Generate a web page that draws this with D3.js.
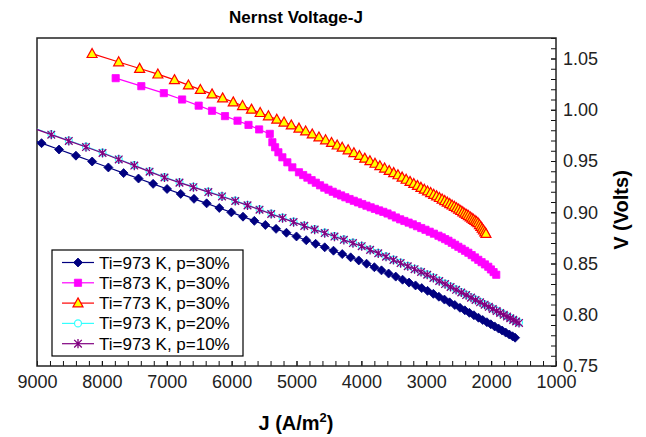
<!DOCTYPE html>
<html><head><meta charset="utf-8">
<script src="https://cdn.jsdelivr.net/npm/d3@7"></script>
<style>
body{margin:0;background:#fff;}
svg{display:block;font-family:Arial,"Liberation Sans",sans-serif;}
</style>
</head><body>
<svg id="chart" width="646" height="437"></svg>
<script>
// ---------------- DATA ----------------
const xTickLabels = [9000, 8000, 7000, 6000, 5000, 4000, 3000, 2000, 1000];
const yTickLabels = [0.75, 0.80, 0.85, 0.90, 0.95, 1.00, 1.05];
const seriesNames = ["Ti=973 K, p=30%", "Ti=873 K, p=30%", "Ti=773 K, p=30%", "Ti=973 K, p=20%", "Ti=973 K, p=10%"];

// Ti=973 K, p=30%
const J_973_30 = [9200, 8930, 8660, 8400, 8150, 7900, 7665, 7435, 7210, 6995, 6785, 6580, 6385, 6190, 6005, 5825, 5650, 5480, 5315, 5155, 5000, 4850, 4705, 4565, 4430, 4295, 4165, 4040, 3920, 3800, 3690, 3580, 3470, 3365, 3265, 3165, 3070, 2980, 2890, 2805, 2720, 2640, 2560, 2480, 2405, 2335, 2265, 2195, 2130, 2065, 2005, 1945, 1885, 1830, 1775, 1720, 1670, 1630];
const V_973_30 = [0.9736, 0.9674, 0.9612, 0.9552, 0.9495, 0.9437, 0.9382, 0.9329, 0.9277, 0.9227, 0.9179, 0.9131, 0.9087, 0.9042, 0.8999, 0.8957, 0.8916, 0.8876, 0.8838, 0.8800, 0.8764, 0.8727, 0.8692, 0.8658, 0.8625, 0.8592, 0.8560, 0.8530, 0.8498, 0.8464, 0.8433, 0.8402, 0.8372, 0.8342, 0.8314, 0.8286, 0.8260, 0.8233, 0.8204, 0.8176, 0.8148, 0.8121, 0.8095, 0.8068, 0.8043, 0.8019, 0.7995, 0.7971, 0.7949, 0.7927, 0.7907, 0.7886, 0.7865, 0.7846, 0.7826, 0.7807, 0.7790, 0.7776];

// Ti=873 K, p=30%
const J_873_30 = [7787, 7392, 7045, 6763, 6508, 6302, 6102, 5909, 5740, 5576, 5412, 5372, 5330, 5279, 5218, 5141, 5064, 4962, 4897, 4832, 4767, 4702, 4637, 4572, 4507, 4442, 4377, 4312, 4247, 4182, 4117, 4052, 3987, 3922, 3857, 3792, 3727, 3662, 3597, 3532, 3467, 3402, 3337, 3272, 3207, 3142, 3077, 3012, 2947, 2882, 2812, 2761, 2709, 2658, 2607, 2556, 2505, 2454, 2402, 2351, 2300, 2249, 2198, 2147, 2095, 2044, 2003, 1962, 1921];
const V_873_30 = [1.0308, 1.0230, 1.0162, 1.0100, 1.0040, 0.9990, 0.9938, 0.9893, 0.9852, 0.9808, 0.9765, 0.9683, 0.9634, 0.9585, 0.9536, 0.9487, 0.9438, 0.9390, 0.9363, 0.9338, 0.9313, 0.9288, 0.9263, 0.9240, 0.9220, 0.9200, 0.9181, 0.9164, 0.9146, 0.9129, 0.9112, 0.9096, 0.9080, 0.9064, 0.9048, 0.9033, 0.9018, 0.9004, 0.8988, 0.8969, 0.8949, 0.8931, 0.8915, 0.8899, 0.8882, 0.8864, 0.8846, 0.8829, 0.8810, 0.8791, 0.8771, 0.8755, 0.8738, 0.8722, 0.8702, 0.8683, 0.8663, 0.8644, 0.8624, 0.8605, 0.8582, 0.8559, 0.8536, 0.8513, 0.8491, 0.8468, 0.8442, 0.8416, 0.8390];

// Ti=773 K, p=30%
const J_773_30 = [8151, 7741, 7418, 7137, 6881, 6666, 6482, 6302, 6139, 5975, 5832, 5694, 5560, 5433, 5304, 5192, 5080, 4962, 4859, 4757, 4654, 4552, 4460, 4373, 4296, 4204, 4115, 4030, 3948, 3868, 3790, 3715, 3642, 3571, 3502, 3436, 3372, 3310, 3250, 3192, 3136, 3082, 3030, 2980, 2932, 2885, 2840, 2797, 2755, 2715, 2676, 2638, 2602, 2567, 2533, 2500, 2468, 2437, 2407, 2378, 2350, 2323, 2297, 2272, 2248, 2225, 2202, 2180, 2159, 2138, 2118, 2098, 2080];
const V_773_30 = [1.0547, 1.0466, 1.0402, 1.0347, 1.0292, 1.0240, 1.0196, 1.0153, 1.0114, 1.0075, 1.0039, 1.0004, 0.9971, 0.9939, 0.9906, 0.9878, 0.9850, 0.9819, 0.9791, 0.9762, 0.9733, 0.9705, 0.9679, 0.9654, 0.9633, 0.9607, 0.9579, 0.9552, 0.9526, 0.9501, 0.9476, 0.9452, 0.9429, 0.9406, 0.9385, 0.9364, 0.9341, 0.9320, 0.9299, 0.9279, 0.9260, 0.9241, 0.9223, 0.9206, 0.9190, 0.9173, 0.9158, 0.9142, 0.9127, 0.9112, 0.9097, 0.9083, 0.9069, 0.9056, 0.9042, 0.9029, 0.9015, 0.9002, 0.8989, 0.8977, 0.8966, 0.8953, 0.8941, 0.8929, 0.8918, 0.8907, 0.8896, 0.8878, 0.8860, 0.8842, 0.8825, 0.8807, 0.8792];

// Ti=973 K, p=20%
const J_973_20 = [9350, 9060, 8780, 8510, 8245, 7990, 7740, 7500, 7265, 7035, 6804, 6589, 6359, 6148, 5944, 5755, 5570, 5390, 5215, 5045, 4880, 4720, 4565, 4415, 4270, 4130, 3995, 3865, 3740, 3620, 3505, 3395, 3285, 3180, 3080, 2985, 2890, 2800, 2710, 2625, 2540, 2460, 2385, 2310, 2240, 2170, 2100, 2035, 1975, 1915, 1860, 1805, 1755, 1705, 1660, 1615, 1570];
const V_973_20 = [0.9890, 0.9825, 0.9761, 0.9700, 0.9640, 0.9582, 0.9519, 0.9459, 0.9400, 0.9343, 0.9293, 0.9249, 0.9201, 0.9158, 0.9114, 0.9071, 0.9029, 0.8987, 0.8947, 0.8908, 0.8871, 0.8835, 0.8801, 0.8767, 0.8735, 0.8703, 0.8673, 0.8637, 0.8603, 0.8570, 0.8538, 0.8508, 0.8477, 0.8449, 0.8421, 0.8394, 0.8363, 0.8333, 0.8303, 0.8275, 0.8247, 0.8221, 0.8196, 0.8171, 0.8148, 0.8125, 0.8102, 0.8081, 0.8061, 0.8040, 0.8022, 0.8003, 0.7986, 0.7970, 0.7954, 0.7939, 0.7924];

// Ti=973 K, p=10%
const J_973_10 = [9350, 9060, 8780, 8510, 8245, 7990, 7740, 7500, 7265, 7035, 6804, 6589, 6359, 6148, 5944, 5755, 5570, 5390, 5215, 5045, 4880, 4720, 4565, 4415, 4270, 4130, 3995, 3865, 3740, 3620, 3505, 3395, 3285, 3180, 3080, 2985, 2890, 2800, 2710, 2625, 2540, 2460, 2385, 2310, 2240, 2170, 2100, 2035, 1975, 1915, 1860, 1805, 1755, 1705, 1660, 1615, 1570];
const V_973_10 = [0.9886, 0.9821, 0.9757, 0.9696, 0.9636, 0.9578, 0.9515, 0.9455, 0.9396, 0.9339, 0.9289, 0.9245, 0.9197, 0.9154, 0.9110, 0.9067, 0.9025, 0.8983, 0.8943, 0.8904, 0.8867, 0.8831, 0.8797, 0.8763, 0.8731, 0.8699, 0.8669, 0.8633, 0.8599, 0.8566, 0.8534, 0.8504, 0.8473, 0.8445, 0.8417, 0.8390, 0.8359, 0.8329, 0.8299, 0.8271, 0.8243, 0.8217, 0.8192, 0.8167, 0.8144, 0.8121, 0.8098, 0.8077, 0.8057, 0.8036, 0.8018, 0.7999, 0.7982, 0.7966, 0.7950, 0.7935, 0.7920];

// ---------------- CHART ----------------
const seriesJ = [J_973_30, J_873_30, J_773_30, J_973_20, J_973_10];
const seriesV = [V_973_30, V_873_30, V_773_30, V_973_20, V_973_10];
const styles = [
  {color:"#000080", marker:"diamond"},
  {color:"#FF00FF", marker:"square"},
  {color:"#FF0000", marker:"triangle", fill:"#FFFF00"},
  {color:"#33FFFF", marker:"circle", fill:"#FFFFFF"},
  {color:"#800080", marker:"star"}
];
const series = seriesNames.map((name, i) => ({
  name, ...styles[i],
  pts: d3.zip(seriesJ[i], seriesV[i])
}));

const M = {left:37, right:556, top:38, bottom:366};
const svg = d3.select("#chart");
const x = d3.scaleLinear().domain([9000, 1000]).range([M.left, M.right]);
const y = d3.scaleLinear().domain([0.75, 1.07]).range([M.bottom, M.top]);

svg.append("rect").attr("width",646).attr("height",437).attr("fill","#fff");

svg.append("defs").append("clipPath").attr("id","plotclip")
  .append("rect").attr("x",M.left).attr("y",M.top)
  .attr("width",M.right-M.left).attr("height",M.bottom-M.top);

// Title
svg.append("text").attr("x",296).attr("y",23).attr("text-anchor","middle")
  .attr("font-size","17px").attr("font-weight","bold").attr("fill","#000")
  .text("Nernst Voltage-J");

// Axes
const minorX = d3.range(1000, 9001, 200);
const minorY = d3.range(75, 108, 1).map(v => v/100);

const gx = svg.append("g").attr("transform",`translate(0,${M.bottom})`);
gx.call(d3.axisBottom(x).tickValues(minorX).tickSize(-5).tickFormat(""));
gx.append("g").call(d3.axisBottom(x).tickValues(xTickLabels).tickSize(-5).tickPadding(9).tickFormat(d3.format("d")));
const gy = svg.append("g").attr("transform",`translate(${M.right},0)`);
gy.call(d3.axisRight(y).tickValues(minorY).tickSize(-5).tickFormat(""));
gy.append("g").call(d3.axisRight(y).tickValues(yTickLabels).tickSize(-5).tickPadding(7).tickFormat(d3.format(".2f")));
svg.selectAll(".domain").remove();
svg.selectAll(".tick line").attr("stroke","#111").attr("stroke-width",1);
svg.selectAll(".tick text").attr("font-size","18px").attr("fill","#222")
  .attr("font-family","Arial, 'Liberation Sans', sans-serif");

// Frame
svg.append("rect").attr("x",M.left).attr("y",M.top)
  .attr("width",M.right-M.left).attr("height",M.bottom-M.top)
  .attr("fill","none").attr("stroke","#222").attr("stroke-width",1.5);

// Axis titles
const xt = svg.append("text").attr("x",296).attr("y",430).attr("text-anchor","middle")
  .attr("font-size","20px").attr("font-weight","bold").attr("fill","#000");
xt.append("tspan").text("J (A/m");
xt.append("tspan").attr("font-size","13px").attr("dy","-8").text("2");
xt.append("tspan").attr("dy","8").text(")");

svg.append("text").attr("transform","translate(628,210) rotate(-90)")
  .attr("text-anchor","middle").attr("font-size","20px").attr("font-weight","bold")
  .attr("fill","#000").text("V (Volts)");

// Marker shapes (glyph geometry, centred on 0,0)
const shape = {
  diamond: "M0,-4.5L4.5,0L0,4.5L-4.5,0Z",
  square: "M-3.6,-3.6H3.6V3.6H-3.6Z",
  triangle: "M0,-5.2L5,3.8L-5,3.8Z",
  circle: d3.symbol(d3.symbolCircle, 38)(),
  star: "M-3.8,-3.8L3.8,3.8M-3.8,3.8L3.8,-3.8M0,-4.6V4.6"
};
function styleMarker(sel, s) {
  if (s.marker === "star") {
    sel.attr("fill","none").attr("stroke",s.color).attr("stroke-width",1.3);
  } else if (s.marker === "triangle" || s.marker === "circle") {
    sel.attr("fill",s.fill).attr("stroke",s.color).attr("stroke-width",1.2);
  } else {
    sel.attr("fill",s.color).attr("stroke",s.color).attr("stroke-width",0.8);
  }
}

const plot = svg.append("g").attr("clip-path","url(#plotclip)");
const line = d3.line().x(d => x(d[0])).y(d => y(d[1]));
series.forEach(s => {
  const g = plot.append("g");
  g.append("path").datum(s.pts).attr("d", line)
    .attr("fill","none").attr("stroke",s.color).attr("stroke-width",1.2);
  g.selectAll("path.mk").data(s.pts.filter(d => d[0] <= 9000)).join("path")
    .attr("class","mk").attr("d", shape[s.marker])
    .attr("transform", d => `translate(${x(d[0])},${y(d[1])})`)
    .call(styleMarker, s);
});

// Legend
const L = {x:52, y:250, w:191, h:106};
const lg = svg.append("g");
lg.append("rect").attr("x",L.x).attr("y",L.y).attr("width",L.w).attr("height",L.h)
  .attr("fill","#fff").attr("stroke","#000").attr("stroke-width",1.2);
series.forEach((s, i) => {
  const cy = L.y + 12.5 + i * 20.3;
  const e = lg.append("g");
  e.append("line").attr("x1",L.x+10).attr("x2",L.x+42).attr("y1",cy).attr("y2",cy)
    .attr("stroke",s.color).attr("stroke-width",1.2);
  e.append("path").attr("d",shape[s.marker]).attr("transform",`translate(${L.x+26},${cy})`)
    .call(styleMarker, s);
  e.append("text").attr("x",L.x+47).attr("y",cy+6).attr("font-size","17px")
    .attr("fill","#000").text(s.name);
});
</script>
</body></html>
